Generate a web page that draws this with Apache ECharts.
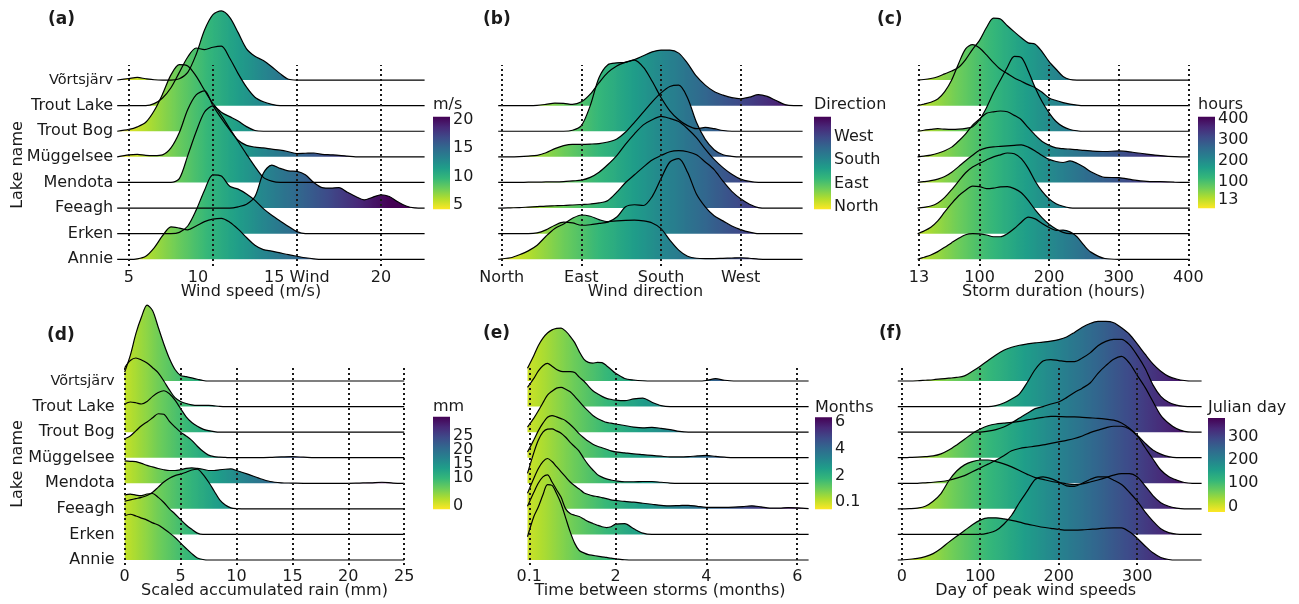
<!DOCTYPE html>
<html><head><meta charset="utf-8">
<script src="https://cdn.jsdelivr.net/npm/echarts@6/dist/echarts.min.js"></script>
<style>html,body{margin:0;padding:0;background:#fff}#c{width:1299px;height:604px}</style>
</head><body><div id="c"></div>
<script>
// ---------------- DATA ----------------
// rows bottom -> top
const lakes = ['Annie','Erken','Feeagh','Mendota','Müggelsee','Trout Bog','Trout Lake','Võrtsjärv'];

// (a) wind speed (m/s); ridge heights in row units
const speedX = [4.3,5,5.5,6,6.5,7,7.5,8,8.5,9,9.5,10,10.5,11,11.5,12,12.5,13,13.5,14,14.5,15,15.5,16,16.5,17,17.5,18,18.5,19,19.5,20,20.5,21,21.5,22,22.6];
const speedTicks = [5,10,15,20];
const speedTickLabels = ['5','10','15 Wind','20'];
const speedDensity = {
  'Võrtsjärv': [0,0.06,0.1,0.05,0.01,0,0,0.05,0.3,1.0,1.95,2.55,2.7,2.45,1.85,1.22,0.93,0.76,0.52,0.25,0.03,0,0,0,0,0,0,0,0,0,0,0,0,0,0,0,0],
  'Trout Lake':[0,0,0,0,0.08,0.3,0.7,1.3,1.9,2.25,2.19,2.28,2.32,1.85,1.25,0.72,0.33,0.15,0.05,0,0,0,0,0,0,0,0,0,0,0,0,0,0,0,0,0,0],
  'Trout Bog': [0,0.07,0.17,0.35,0.8,1.45,2.2,2.6,2.55,2.15,1.6,1.08,0.74,0.57,0.4,0.18,0.03,0,0,0,0,0,0,0,0,0,0,0,0,0,0,0,0,0,0,0,0],
  'Müggelsee': [0,0.08,0.1,0.06,0.05,0.08,0.35,0.95,1.85,2.42,2.58,2.0,1.5,1.05,0.65,0.45,0.38,0.35,0.3,0.26,0.2,0.13,0.14,0.15,0.1,0.08,0.06,0.03,0,0,0,0,0,0,0,0,0],
  'Mendota':   [0,0,0,0,0,0,0,0.15,1.05,1.98,2.75,2.99,2.62,2.1,1.6,1.1,0.62,0.2,0.05,0,0,0,0,0,0,0,0,0,0,0,0,0,0,0,0,0,0],
  'Feeagh':    [0,0,0,0,0,0,0,0,0,0,0,0,0,0,0.05,0.15,0.45,1.36,1.68,1.55,1.45,1.43,1.3,1.0,0.8,0.78,0.8,0.62,0.45,0.32,0.42,0.52,0.45,0.25,0.08,0.01,0],
  'Erken':     [0,0,0,0,0,0,0,0.05,0.3,0.92,1.7,2.3,2.25,1.85,1.74,1.55,1.3,0.98,0.72,0.5,0.28,0.08,0,0,0,0,0,0,0,0,0,0,0,0,0,0,0],
  'Annie':     [0,0,0.02,0.12,0.45,0.92,1.27,1.22,1.15,1.3,1.47,1.57,1.6,1.45,1.18,0.85,0.55,0.38,0.32,0.25,0.18,0.12,0.06,0.02,0,0,0,0,0,0,0,0,0,0,0,0,0]
};
const speedLegendTicks = [5,10,15,20];

// (b) wind direction (degrees)
const dirX = [-4,0,10,20,30,40,50,60,70,80,90,100,110,120,130,140,150,160,170,180,190,200,210,220,230,240,250,260,270,280,290,300,310,320,330,340];
const dirTicks = [0,90,180,270];
const dirTickLabels = ['North','East','South','West'];
const dirDensity = {
  'Trout Lake':[0,0,0,0,0,0.01,0.05,0.1,0.09,0.05,0.15,0.45,0.9,1.3,1.55,1.7,1.8,1.95,2.1,2.17,2.17,2.05,1.65,1.15,0.8,0.55,0.41,0.31,0.27,0.33,0.43,0.36,0.2,0.04,0,0],
  'Trout Bog': [0,0,0,0,0,0,0,0,0,0.04,0.22,1.0,2.1,2.6,2.67,2.69,2.78,2.5,1.95,1.32,0.8,0.45,0.22,0.1,0.15,0.1,0.03,0,0,0,0,0,0,0,0,0],
  'Müggelsee': [0,0,0,0.01,0.03,0.06,0.16,0.32,0.44,0.49,0.49,0.5,0.52,0.58,0.7,0.97,1.35,1.75,2.15,2.5,2.75,2.8,2.3,1.35,0.68,0.28,0.08,0.02,0,0,0,0,0,0,0,0],
  'Mendota':   [0,0,0,0,0.01,0.01,0.02,0.02,0.03,0.06,0.09,0.2,0.4,0.7,1.05,1.5,1.9,2.25,2.45,2.58,2.5,2.38,2.1,1.75,1.3,0.9,0.58,0.32,0.13,0.04,0,0,0,0,0,0],
  'Feeagh':    [0,0,0.01,0.02,0.04,0.06,0.08,0.09,0.1,0.12,0.14,0.16,0.2,0.3,0.62,1.0,1.3,1.6,1.88,2.05,2.2,2.24,2.2,2.08,1.8,1.5,1.05,0.65,0.36,0.15,0.02,0,0,0,0,0],
  'Erken':     [0,0,0,0,0,0.03,0.15,0.33,0.45,0.42,0.33,0.35,0.4,0.45,0.65,1.05,1.13,1.1,1.45,2.15,2.8,2.93,2.4,1.55,1.05,0.7,0.5,0.3,0.16,0.06,0,0,0,0,0,0],
  'Annie':     [0,0.02,0.06,0.18,0.33,0.55,0.9,1.2,1.38,1.6,1.73,1.68,1.55,1.47,1.5,1.52,1.53,1.5,1.42,1.2,0.75,0.36,0.12,0.04,0.03,0.03,0.04,0.05,0.06,0.04,0.01,0,0,0,0,0]
};
const dirLegendTicks = [0,90,180,270];
const dirLegendLabels = ['North','East','South','West'];

// (c) storm duration (hours)
const durX = [11,20,30,40,50,60,70,80,90,100,110,120,130,140,150,160,170,180,190,200,210,220,230,240,250,260,280,300,320,340,360,380,402];
const durTicks = [13,100,200,300,400];
const durTickLabels = ['13','100','200','300','400'];
const durDensity = {
  'Võrtsjärv': [0,0.02,0.06,0.13,0.24,0.35,0.5,0.8,1.2,1.55,2.05,2.42,2.38,2.12,1.88,1.65,1.45,1.4,1.1,0.72,0.42,0.14,0.02,0,0,0,0,0,0,0,0,0,0],
  'Trout Lake':[0,0.06,0.13,0.26,0.55,1.0,1.65,2.22,2.38,2.25,1.98,1.68,1.42,1.25,1.08,0.95,0.82,0.7,0.52,0.3,0.2,0.12,0.06,0.02,0,0,0,0,0,0,0,0,0],
  'Trout Bog': [0,0.04,0.07,0.1,0.08,0.07,0.08,0.11,0.18,0.45,0.92,1.5,2.0,2.5,2.92,2.88,2.35,1.7,1.15,0.72,0.38,0.18,0.07,0.02,0,0,0,0,0,0,0,0,0],
  'Müggelsee': [0,0.03,0.07,0.14,0.24,0.38,0.62,0.9,1.24,1.48,1.7,1.76,1.79,1.76,1.62,1.45,1.14,0.85,0.6,0.45,0.35,0.32,0.3,0.28,0.25,0.23,0.21,0.23,0.18,0.11,0.05,0.01,0],
  'Mendota':   [0,0.03,0.07,0.13,0.23,0.4,0.62,0.85,1.06,1.26,1.35,1.39,1.41,1.43,1.45,1.47,1.38,1.23,1.05,0.9,0.82,0.78,0.84,0.75,0.6,0.42,0.2,0.19,0.1,0.04,0.03,0.01,0],
  'Feeagh':    [0,0.03,0.08,0.2,0.42,0.72,1.05,1.38,1.6,1.75,1.88,2.0,2.08,2.15,2.12,1.93,1.55,1.05,0.65,0.36,0.17,0.07,0.01,0,0,0,0,0,0,0,0,0,0],
  'Erken':     [0,0.1,0.25,0.5,0.85,1.18,1.48,1.7,1.86,1.84,1.76,1.78,1.83,1.84,1.76,1.6,1.3,0.93,0.62,0.37,0.18,0.05,0,0,0,0,0,0,0,0,0,0,0],
  'Annie':     [0,0.08,0.17,0.3,0.47,0.65,0.82,0.96,1.0,0.99,0.95,0.88,0.88,1.0,1.2,1.45,1.65,1.58,1.4,1.24,1.13,1.14,1.07,0.88,0.55,0.28,0.03,0,0,0,0,0,0]
};
const durLegendTicks = [13,100,200,300,400];

// (d) scaled accumulated rain (mm)
const rainX = [0,0.5,1,1.5,2,2.5,3,3.5,4,4.5,5,5.5,6,6.5,7,7.5,8,8.5,9,9.5,10,11,12,13,14,15,16,17,18,19,20,21,22,23,24,25];
const rainTicks = [0,5,10,15,20,25];
const rainTickLabels = ['0','5','10','15','20','25'];
const rainDensity = {
  'Võrtsjärv': [0.35,1.0,1.85,2.5,2.97,2.75,2.1,1.45,0.88,0.45,0.22,0.17,0.12,0.07,0.02,0,0,0,0,0,0,0,0,0,0,0,0,0,0,0,0,0,0,0,0,0],
  'Trout Lake':[1.52,1.8,1.9,1.82,1.7,1.52,1.32,1.0,0.65,0.35,0.2,0.12,0.07,0.05,0.05,0.05,0.03,0.01,0,0,0,0,0,0,0,0,0,0,0,0,0,0,0,0,0,0],
  'Trout Bog': [1.1,1.18,1.15,1.1,1.2,1.4,1.55,1.62,1.5,1.25,0.92,0.6,0.38,0.23,0.12,0.06,0.02,0,0,0,0,0,0,0,0,0,0,0,0,0,0,0,0,0,0,0],
  'Müggelsee': [0.74,0.85,1.05,1.25,1.4,1.56,1.72,1.7,1.42,1.2,1.0,0.85,0.68,0.45,0.25,0.1,0.04,0.02,0.01,0,0,0,0,0.01,0.03,0.04,0.02,0,0,0,0,0,0,0,0,0],
  'Mendota':   [0.88,0.86,0.85,0.78,0.7,0.64,0.58,0.53,0.5,0.5,0.53,0.58,0.6,0.58,0.55,0.5,0.5,0.53,0.55,0.56,0.5,0.36,0.2,0.07,0.02,0.01,0,0,0,0,0,0.01,0.02,0.04,0.01,0],
  'Feeagh':    [0.3,0.35,0.4,0.45,0.52,0.65,0.85,1.05,1.2,1.3,1.36,1.43,1.52,1.55,1.35,1.05,0.7,0.35,0.15,0.04,0.01,0,0,0,0,0,0,0,0,0,0,0,0,0,0,0],
  'Erken':     [1.55,1.58,1.54,1.52,1.58,1.6,1.45,1.25,1.0,0.8,0.58,0.37,0.2,0.05,0,0,0,0,0,0,0,0,0,0,0,0,0,0,0,0,0,0,0,0,0,0],
  'Annie':     [1.73,1.79,1.72,1.64,1.56,1.45,1.37,1.22,1.06,0.88,0.66,0.45,0.25,0.08,0.02,0,0,0,0,0,0,0,0,0,0,0,0,0,0,0,0,0,0,0,0,0]
};
const rainLegendTicks = [0,10,15,20,25];

// (e) time between storms (months)
const gapX = [0.06,0.2,0.3,0.4,0.5,0.6,0.7,0.8,0.9,1.0,1.1,1.2,1.3,1.4,1.5,1.6,1.7,1.8,1.9,2.0,2.2,2.4,2.6,2.8,3.0,3.2,3.4,3.6,3.8,4.0,4.2,4.4,4.6,4.8,5.0,5.2,5.4,5.6,5.8,6.0,6.25];
const gapTicks = [0.1,2,4,6];
const gapTickLabels = ['0.1','2','4','6'];
const gapDensity = {
  'Võrtsjärv': [0.5,1.0,1.39,1.68,1.88,2.0,2.06,2.07,1.95,1.75,1.5,1.15,0.86,0.73,0.7,0.73,0.72,0.6,0.45,0.3,0.1,0.04,0.01,0,0,0,0,0,0,0.02,0.09,0.03,0,0,0,0,0,0,0,0,0],
  'Trout Lake':[0.75,1.1,1.4,1.6,1.69,1.58,1.45,1.38,1.37,1.37,1.33,1.15,1.0,0.8,0.62,0.5,0.4,0.32,0.28,0.25,0.23,0.3,0.33,0.17,0.04,0,0,0,0,0,0,0,0,0,0,0,0,0,0,0,0],
  'Trout Bog': [0.2,0.55,0.84,1.15,1.45,1.6,1.72,1.75,1.68,1.58,1.4,1.2,1.0,0.82,0.65,0.53,0.45,0.38,0.35,0.32,0.26,0.2,0.17,0.19,0.15,0.1,0.03,0,0,0,0,0,0,0,0,0,0,0,0,0,0],
  'Müggelsee': [0.22,0.7,1.06,1.35,1.58,1.65,1.6,1.53,1.45,1.3,1.13,0.93,0.78,0.64,0.53,0.45,0.39,0.33,0.27,0.23,0.19,0.15,0.12,0.09,0.06,0.03,0.03,0.04,0.07,0.09,0.05,0.02,0,0,0,0,0,0,0,0,0],
  'Mendota':   [0.39,1.2,1.69,2.0,2.12,2.13,2.05,1.96,1.8,1.6,1.43,1.25,0.97,0.72,0.52,0.34,0.24,0.17,0.13,0.1,0.06,0.06,0.07,0.07,0.04,0.01,0,0,0,0,0,0,0,0,0,0,0,0,0,0,0],
  'Feeagh':    [0.61,1.2,1.58,1.85,1.97,1.85,1.65,1.45,1.25,1.05,0.9,0.78,0.63,0.56,0.51,0.48,0.44,0.4,0.35,0.33,0.29,0.26,0.22,0.18,0.14,0.12,0.13,0.14,0.1,0.06,0.06,0.06,0.07,0.09,0.12,0.08,0.03,0.03,0.05,0.04,0.01],
  'Erken':     [1.1,1.65,2.01,2.25,2.33,2.05,1.75,1.45,1.0,0.82,0.75,0.7,0.6,0.5,0.43,0.36,0.3,0.27,0.3,0.4,0.42,0.22,0.05,0,0,0,0,0,0,0,0,0,0,0,0,0,0,0,0,0,0],
  'Annie':     [0.91,1.7,2.08,2.55,2.95,2.92,2.6,2.2,1.65,1.1,0.65,0.37,0.28,0.21,0.18,0.15,0.12,0.1,0.07,0.05,0.01,0,0,0,0,0,0,0,0,0,0,0,0,0,0,0,0,0,0,0,0]
};
const gapLegendTicks = [0.1,2,4,6];

// (f) day of peak wind speeds (Julian day)
const dayX = [-5,0,10,20,30,40,50,60,70,80,90,100,110,120,130,140,150,160,170,180,190,200,210,220,230,240,250,260,270,280,290,300,310,320,330,340,350,360,370,382];
const dayTicks = [0,100,200,300];
const dayTickLabels = ['0','100','200','300'];
const dayDensity = {
  'Võrtsjärv': [0,0,0,0.01,0.03,0.05,0.08,0.11,0.14,0.2,0.38,0.58,0.8,1.02,1.2,1.32,1.4,1.45,1.49,1.52,1.56,1.62,1.72,1.9,2.1,2.25,2.33,2.33,2.28,2.08,1.83,1.45,1.05,0.67,0.38,0.18,0.08,0.02,0,0],
  'Trout Lake':[0,0,0,0,0,0,0,0,0,0,0,0,0,0.04,0.14,0.3,0.5,0.95,1.45,1.78,1.84,1.8,1.76,1.76,1.9,2.1,2.38,2.55,2.63,2.63,2.42,2.0,1.5,0.85,0.4,0.17,0.06,0.01,0,0],
  'Trout Bog': [0,0,0,0,0,0,0,0,0,0,0,0,0.04,0.1,0.2,0.36,0.55,0.74,0.92,1.0,1.1,1.18,1.35,1.55,1.72,1.92,2.3,2.6,2.85,2.96,2.7,2.22,1.75,1.2,0.66,0.35,0.14,0.03,0,0],
  'Müggelsee': [0,0,0.01,0.02,0.04,0.07,0.15,0.3,0.5,0.72,0.95,1.12,1.25,1.32,1.35,1.38,1.42,1.48,1.53,1.58,1.62,1.61,1.6,1.6,1.58,1.56,1.54,1.51,1.47,1.36,1.15,0.88,0.57,0.3,0.14,0.04,0,0,0,0],
  'Mendota':   [0,0,0,0,0.02,0.04,0.07,0.12,0.2,0.3,0.45,0.6,0.75,0.9,1.08,1.27,1.36,1.41,1.45,1.5,1.56,1.62,1.68,1.75,1.85,1.98,2.08,2.17,2.23,2.23,2.12,1.85,1.4,0.95,0.52,0.27,0.13,0.03,0,0],
  'Feeagh':    [0,0,0.01,0.03,0.1,0.3,0.6,1.1,1.48,1.72,1.85,1.91,1.91,1.85,1.76,1.64,1.5,1.35,1.22,1.15,1.08,1.03,0.98,0.95,0.98,1.05,1.13,1.22,1.32,1.38,1.38,1.25,0.9,0.52,0.24,0.1,0.03,0,0,0],
  'Erken':     [0,0,0,0,0,0,0,0,0,0,0,0,0.05,0.15,0.4,0.75,1.25,1.7,2.15,2.25,2.18,2.05,1.9,1.88,2.0,2.15,2.25,2.25,2.12,1.95,1.65,1.3,0.88,0.52,0.22,0.07,0.01,0,0,0],
  'Annie':     [0,0,0.03,0.06,0.13,0.25,0.45,0.7,0.93,1.15,1.38,1.56,1.65,1.65,1.61,1.55,1.48,1.4,1.34,1.28,1.24,1.2,1.17,1.17,1.18,1.2,1.22,1.25,1.26,1.26,1.1,0.85,0.55,0.28,0.1,0.02,0,0,0,0]
};
const dayLegendTicks = [0,100,200,300];

// ---------------- STYLE / LAYOUT ----------------
const FONT = 'DejaVu Sans';
const TXT = '#1a1a1a';
const VIRIDIS = ['#440154','#482878','#3E4A89','#31688E','#26828E','#1F9E89','#35B779','#6DCD59','#B4DE2C','#FDE725'];
function rgb(h){return [parseInt(h.slice(1,3),16),parseInt(h.slice(3,5),16),parseInt(h.slice(5,7),16)];}
function viridis(t){ // 0 = purple, 1 = yellow
  t = Math.max(0, Math.min(1, t));
  const s = t * (VIRIDIS.length - 1);
  const i = Math.min(Math.floor(s), VIRIDIS.length - 2), f = s - i;
  const a = rgb(VIRIDIS[i]), b = rgb(VIRIDIS[i + 1]);
  return 'rgb(' + [0,1,2].map(k => Math.round(a[k] + (b[k] - a[k]) * f)).join(',') + ')';
}

const TOP = {top: 65, bottom: 266, row0: 259.3, rowPx: 25.61};
const BOT = {top: 367, bottom: 565, row0: 560, rowPx: 25.57};

const panels = [
  {letter:'(a)', lx:48, ly:20, xs:speedX, dens:speedDensity, min:4.3, max:22.6, left:117.2, width:307.4, v:TOP,
   ticks:speedTicks, labels:speedTickLabels, shift:{10: 30}, name:'Wind speed (m/s)', namePad:40, lakesLabel:true, lakeMargin:4, lakeNameY:165,
   cmin:4.2, cmax:20.5,
   leg:{title:'m/s', left:433, top:116.7, height:92.6, min:4.2, max:20.5, ticks:speedLegendTicks, gap:4}},
  {letter:'(b)', lx:483, ly:20, xs:dirX, dens:dirDensity, min:-4, max:340, left:498.2, width:304.4, v:TOP,
   ticks:dirTicks, labels:dirTickLabels, name:'Wind direction', namePad:10,
   cmin:-10, cmax:347,
   leg:{title:'Direction', left:814, top:116.7, height:92.6, min:-10, max:347, ticks:dirLegendTicks, tickLabels:dirLegendLabels, gap:4}},
  {letter:'(c)', lx:877, ly:20, xs:durX, dens:durDensity, min:11, max:402, left:917.6, width:272.1, v:TOP,
   ticks:durTicks, labels:durTickLabels, name:'Storm duration (hours)', namePad:0,
   cmin:-29, cmax:411,
   leg:{title:'hours', left:1198, top:116.7, height:91.6, min:-29, max:411, ticks:durLegendTicks, gap:4}},
  {letter:'(d)', lx:47, ly:336, xs:rainX, dens:rainDensity, min:0, max:25, left:124.7, width:279.5, v:BOT,
   ticks:rainTicks, labels:rainTickLabels, name:'Scaled accumulated rain (mm)', namePad:0, lakesLabel:true, lakeMargin:10, lakeNameY:464,
   cmin:-2, cmax:21,
   leg:{title:'mm', left:433, top:416.7, height:92.6, min:-1.1, max:31.8, ticks:rainLegendTicks, gap:2}},
  {letter:'(e)', lx:483, ly:334, xs:gapX, dens:gapDensity, min:0.06, max:6.25, left:527.5, width:281.1, v:BOT,
   ticks:gapTicks, labels:gapTickLabels, name:'Time between storms (months)', namePad:16,
   cmin:-0.43, cmax:6.32,
   leg:{title:'Months', left:815, top:417.3, height:92, min:-0.43, max:6.32, ticks:gapLegendTicks, gap:1}},
  {letter:'(f)', lx:879, ly:334, xs:dayX, dens:dayDensity, min:-5, max:382, left:897.8, width:303.8, v:BOT,
   ticks:dayTicks, labels:dayTickLabels, name:'Day of peak wind speeds', namePad:28,
   cmin:-23, cmax:380,
   leg:{title:'Julian day', left:1208, top:418, height:94, min:-23, max:380, ticks:dayLegendTicks, gap:2}}
];

const option = {
  animation: false,
  backgroundColor: '#fff',
  textStyle: {fontFamily: FONT},
  grid: [], xAxis: [], yAxis: [], series: [], visualMap: [], graphic: []
};

panels.forEach((p, pi) => {
  const v = p.v;
  option.grid.push({left: p.left, top: v.top, width: p.width, height: v.bottom - v.top,
    containLabel: false, outerBoundsMode: 'none', show: false});
  const rich = {sh: {fontSize: 16, color: TXT, fontFamily: FONT, padding: [0, 30, 0, 0]}};
  option.xAxis.push({
    type: 'value', gridIndex: pi, min: p.min, max: p.max,
    axisLine: {show: false}, axisTick: {show: false}, splitLine: {show: false},
    axisLabel: {
      customValues: p.ticks, fontSize: 16, color: TXT, margin: 4, fontFamily: FONT, rich: rich, hideOverlap: false,
      formatter: val => {
        const i = p.ticks.findIndex(t => Math.abs(t - val) < 1e-9);
        if (i < 0) return '';
        if (p.shift && p.shift[p.ticks[i]]) return '{sh|' + p.labels[i] + '}';
        return p.labels[i];
      }
    },
    name: p.name, nameLocation: 'middle', nameGap: 17.5, nameMoveOverlap: false,
    nameTextStyle: {fontSize: 16, color: TXT, fontFamily: FONT, padding: [0, p.namePad, 0, 0]}
  });
  const ymin = -(v.bottom - v.row0) / v.rowPx, ymax = (v.row0 - v.top) / v.rowPx;
  option.yAxis.push({
    type: 'value', gridIndex: pi, min: ymin, max: ymax,
    axisLine: {show: false}, axisTick: {show: false}, splitLine: {show: false},
    axisLabel: p.lakesLabel ? {
      customValues: [0,1,2,3,4,5,6,7], fontSize: 16, color: TXT, margin: p.lakeMargin, fontFamily: FONT, hideOverlap: false,
      rich: {small: {fontSize: 14.5, color: TXT, fontFamily: FONT}},
      formatter: val => {
        const r = Math.round(val);
        if (r < 0 || r > 7) return '';
        return r === 7 ? '{small|' + lakes[r] + '}' : lakes[r];
      }
    } : {show: false}
  });
  const first = option.series.length;
  for (let r = 7; r >= 0; r--) {
    const d = p.dens[lakes[r]];
    if (!d) continue;
    option.series.push({
      type: 'line', name: lakes[r], xAxisIndex: pi, yAxisIndex: pi,
      data: p.xs.map((x, i) => [x, r + d[i]]),
      smooth: 0.3, symbol: 'none', showSymbol: false, clip: false, silent: true,
      lineStyle: {color: '#000', width: 1.2},
      areaStyle: {origin: r, opacity: 1},
      emphasis: {disabled: true}, z: 2
    });
  }
  option.series[first].markLine = {
    silent: true, symbol: ['none', 'none'], animation: false,
    label: {show: false}, emphasis: {disabled: true},
    lineStyle: {type: [2, 3], color: '#1a1a1a', width: 2, opacity: 1},
    data: p.ticks.map(t => ({xAxis: t}))
  };
  const N = 60, colors = [];
  for (let k = 0; k <= N; k++) {
    const val = p.min + (p.max - p.min) * k / N;
    colors.push(viridis(1 - (val - p.cmin) / (p.cmax - p.cmin)));
  }
  const idx = [];
  for (let s = first; s < option.series.length; s++) idx.push(s);
  option.visualMap.push({type: 'continuous', show: false, dimension: 0, seriesIndex: idx,
    min: p.min, max: p.max, inRange: {color: colors}});

  option.graphic.push({type: 'text', x: p.lx, y: p.ly, silent: true,
    style: {text: p.letter, font: 'bold 17px "DejaVu Sans"', fill: TXT, align: 'left', verticalAlign: 'middle'}});
  if (p.lakesLabel) {
    option.graphic.push({type: 'text', x: 18, y: p.lakeNameY, rotation: Math.PI / 2, silent: true,
      style: {text: 'Lake name', font: '16px "DejaVu Sans"', fill: TXT, align: 'center', verticalAlign: 'middle'}});
  }
});

// colour bars: labels split over two axes (alternate ticks) so close labels are never auto-hidden
const barStops = VIRIDIS.slice().reverse().map((c, i, a) => ({offset: i / (a.length - 1), color: c}));
panels.forEach((p, pi) => {
  const L = p.leg, gi = option.grid.length;
  option.grid.push({left: L.left, top: L.top, width: 17, height: L.height, containLabel: false, outerBoundsMode: 'none', show: false});
  const xi = option.xAxis.length;
  option.xAxis.push({type: 'category', gridIndex: gi, data: ['c'], show: false});
  const yi = option.yAxis.length;
  [0, 1].forEach(part => {
    const vals = L.ticks.filter((t, i) => i % 2 === part);
    option.yAxis.push({
      type: 'value', gridIndex: gi, min: L.min, max: L.max, position: 'left', offset: 0,
      axisLine: {show: false}, splitLine: {show: false},
      axisTick: {show: true, inside: true, length: 3, customValues: vals, lineStyle: {color: 'rgba(255,255,255,0.8)', width: 1}},
      axisLabel: {
        inside: true, margin: 20, customValues: vals, fontSize: 16, color: TXT, fontFamily: FONT, hideOverlap: false,
        formatter: val => {
          const i = L.ticks.findIndex(t => Math.abs(t - val) < 1e-9);
          if (i < 0) return '';
          return L.tickLabels ? L.tickLabels[i] : String(L.ticks[i]);
        }
      },
      name: part === 0 ? L.title : '', nameLocation: 'end', nameGap: L.gap, nameMoveOverlap: false,
      nameTextStyle: {align: 'left', verticalAlign: 'bottom', fontSize: 16, color: TXT, fontFamily: FONT}
    });
  });
  option.series.push({
    type: 'custom', xAxisIndex: xi, yAxisIndex: yi, silent: true, clip: false,
    data: [[0, L.min, L.max]],
    renderItem: (params, api) => {
      const top = api.coord([api.value(0), api.value(2)]);
      const bot = api.coord([api.value(0), api.value(1)]);
      const w = api.size([1, 0])[0];
      return {type: 'rect', shape: {x: top[0] - w / 2, y: top[1], width: w, height: bot[1] - top[1]},
        style: {fill: new echarts.graphic.LinearGradient(0, 1, 0, 0, barStops)}};
    }
  });
});

const chart = echarts.init(document.getElementById('c'), null, {renderer: 'canvas', width: 1299, height: 604});
chart.setOption(option);
</script>
</body></html>
